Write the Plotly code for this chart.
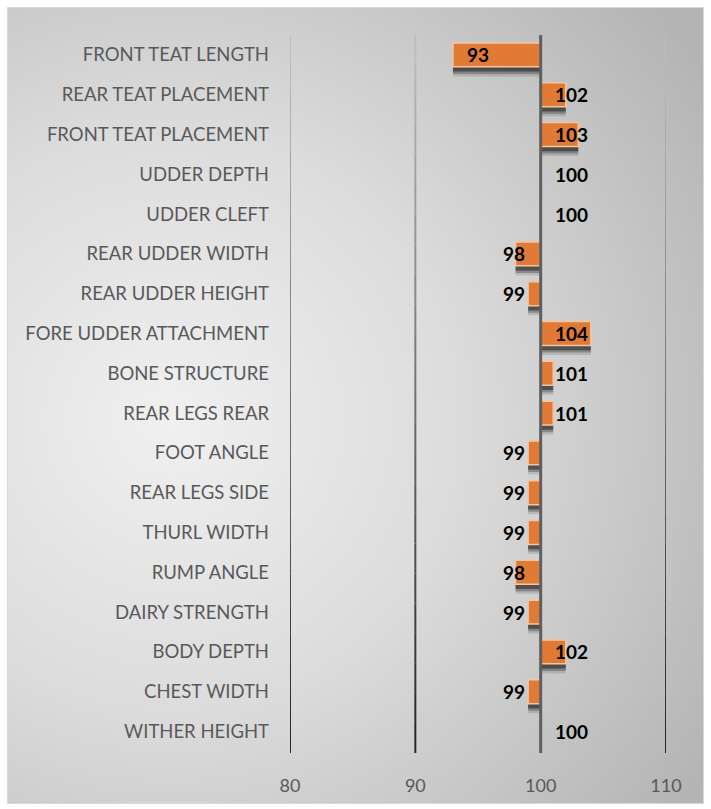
import base64
import plotly.graph_objects as go

categories = [
    "FRONT TEAT LENGTH", "REAR TEAT PLACEMENT", "FRONT TEAT PLACEMENT", "UDDER DEPTH",
    "UDDER CLEFT", "REAR UDDER WIDTH", "REAR UDDER HEIGHT", "FORE UDDER ATTACHMENT",
    "BONE STRUCTURE", "REAR LEGS REAR", "FOOT ANGLE", "REAR LEGS SIDE", "THURL WIDTH",
    "RUMP ANGLE", "DAIRY STRENGTH", "BODY DEPTH", "CHEST WIDTH", "WITHER HEIGHT",
]
values = [93, 102, 103, 100, 100, 98, 99, 104, 101, 101, 99, 99, 99, 98, 99, 102, 99, 100]
x_ticks = [80, 90, 100, 110]
base_value = 100

W, H = 711, 809
L, R, T, B = 290, 45, 35, 56
pw, ph = W - L - R, H - T - B

fig = go.Figure()

# shadows (soft, below bars)
for wdt, off, col in [(0.62, -0.08, "rgba(0,0,0,0.12)"),
                      (0.58, -0.10, "rgba(0,0,0,0.25)"),
                      (0.54, -0.12, "rgba(0,0,0,0.42)")]:
    fig.add_trace(go.Bar(y=categories, x=[v - base_value for v in values], base=base_value,
                         orientation="h", width=wdt, offset=off,
                         marker=dict(color=col, line=dict(width=0)),
                         hoverinfo="skip", showlegend=False))
# bars
fig.add_trace(go.Bar(y=categories, x=[v - base_value for v in values], base=base_value,
                     orientation="h", width=0.6, offset=-0.3,
                     marker=dict(color="#E07A35", line=dict(color="#F3C6A2", width=1.5)),
                     showlegend=False))

# value labels
for c, v in zip(categories, values):
    if v >= base_value:
        fig.add_annotation(x=base_value + 1.0, y=c, text=f"<b>{v}</b>", showarrow=False,
                           xanchor="left", yanchor="middle",
                           font=dict(family="Lato", size=19, color="#000000"))
    else:
        fig.add_annotation(x=min(v + 3.0, base_value - 1.1), y=c, text=f"<b>{v}</b>",
                           showarrow=False, xanchor="right", yanchor="middle",
                           font=dict(family="Lato", size=19, color="#000000"))

# gradient gridlines
nseg = 24
for t in x_ticks:
    if t == base_value:
        continue
    for i in range(nseg):
        f = i / (nseg - 1)
        g = int(190 - f * (190 - 40))
        fig.add_shape(type="line", xref="x", yref="paper", x0=t, x1=t,
                      y0=1 - i / nseg, y1=1 - (i + 1) / nseg,
                      line=dict(color=f"rgb({g},{g},{g})", width=2), layer="above")
fig.add_shape(type="line", xref="x", yref="paper", x0=base_value, x1=base_value, y0=0, y1=1,
              line=dict(color="#5f5f5f", width=3), layer="above")

svg = f'''<svg xmlns="http://www.w3.org/2000/svg" width="{W}" height="{H}" viewBox="0 0 {W} {H}" preserveAspectRatio="none">
<defs><radialGradient id="g" cx="170" cy="420" r="640" gradientUnits="userSpaceOnUse">
<stop offset="0" stop-color="#f0f0f0"/><stop offset="0.45" stop-color="#dcdcdc"/><stop offset="1" stop-color="#b4b4b4"/></radialGradient></defs>
<rect x="0" y="0" width="{W}" height="{H}" fill="#ffffff"/>
<rect x="7.5" y="7.5" width="{W-15}" height="{H-13}" fill="url(#g)" stroke="#d8d8d8" stroke-width="1"/>
</svg>'''
src = "data:image/svg+xml;base64," + base64.b64encode(svg.encode()).decode()
fig.add_layout_image(source=src, xref="paper", yref="paper", x=-L / pw, y=1 + T / ph,
                     sizex=W / pw, sizey=H / ph, xanchor="left", yanchor="top",
                     sizing="stretch", layer="below")

fig.update_layout(
    width=W, height=H, margin=dict(l=L, r=R, t=T, b=B),
    paper_bgcolor="#ffffff", plot_bgcolor="rgba(0,0,0,0)",
    barmode="overlay", bargap=0.4,
    xaxis=dict(range=[80, 110], tickvals=x_ticks, showgrid=False, zeroline=False,
               showline=False, ticks="", ticklabelstandoff=20,
               tickfont=dict(family="Lato", size=18, color="#595959")),
    yaxis=dict(categoryorder="array", categoryarray=categories, autorange="reversed",
               showgrid=False, zeroline=False, showline=False, ticks="", ticklabelstandoff=20,
               tickfont=dict(family="Lato", size=18.5, color="#595959")),
)

fig.write_html("out.html", config={"displayModeBar": False},
               post_script="document.body.style.margin='0';")
